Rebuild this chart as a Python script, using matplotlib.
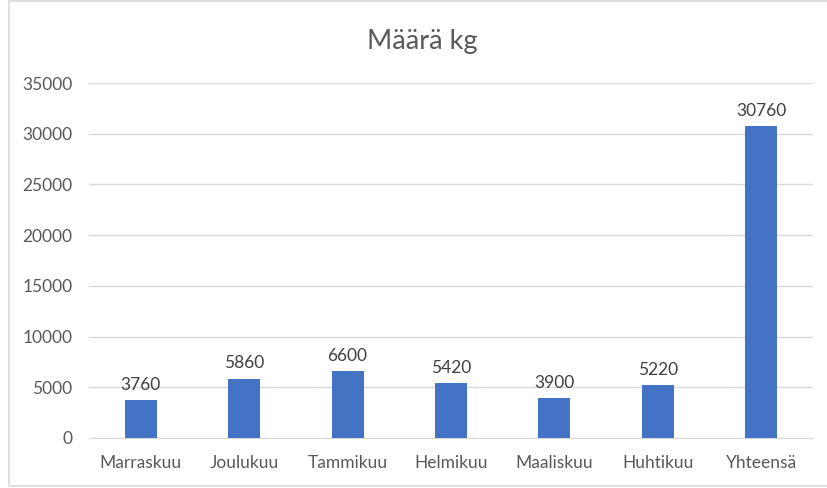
import matplotlib.pyplot as plt
from matplotlib.patches import Rectangle

months = ['Marraskuu', 'Joulukuu', 'Tammikuu', 'Helmikuu', 'Maaliskuu', 'Huhtikuu', 'Yhteensä']
kg = [3760, 5860, 6600, 5420, 3900, 5220, 30760]
yticks = [0, 5000, 10000, 15000, 20000, 25000, 30000, 35000]

plt.rcParams['font.family'] = ['Lato', 'DejaVu Sans']

fig = plt.figure(figsize=(8.28, 4.88), dpi=100)
ax = fig.add_axes([89 / 828, 1 - 438 / 488, (813 - 89) / 828, (438 - 83) / 488])

x = range(len(months))
bars = ax.bar(x, kg, width=0.31, color='#4472C4', zorder=3)
for xi, v in zip(x, kg):
    ax.text(xi, v + 700, str(v), ha='center', va='bottom', fontsize=12.5, color='#404040')

ax.set_xlim(-0.5, len(months) - 0.5)
ax.set_ylim(0, 35000)
ax.set_yticks(yticks)
ax.set_yticklabels([str(t) for t in yticks])
ax.set_xticks(list(x))
ax.set_xticklabels(months)
ax.tick_params(axis='both', length=0, labelsize=12.5, colors='#595959')
ax.tick_params(axis='y', pad=12)
ax.tick_params(axis='x', pad=12)
ax.grid(axis='y', color='#D9D9D9', linewidth=1, zorder=0)
for s in ['top', 'right', 'left']:
    ax.spines[s].set_visible(False)
ax.spines['bottom'].set_color('#D9D9D9')

fig.text(422 / 828, 1 - 42 / 488, 'Määrä kg', ha='center', va='center', fontsize=19.5, color='#595959')

fig.patches.append(Rectangle((9 / 828, 2 / 488), 1.0, 485 / 488, transform=fig.transFigure,
                             fill=False, edgecolor='#D9D9D9', linewidth=1.2))

plt.savefig('out.png')
